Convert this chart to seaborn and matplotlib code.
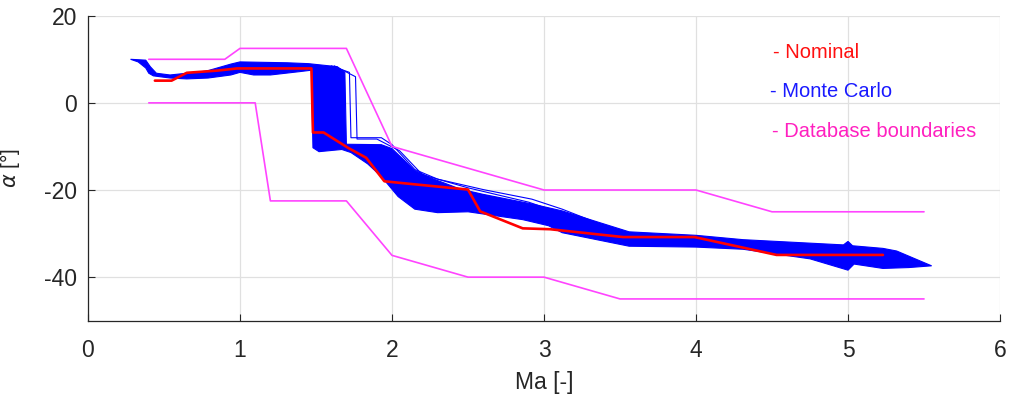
import numpy as np
import matplotlib
matplotlib.use("Agg")
from matplotlib import pyplot as plt
import seaborn as sns

# nominal trajectory (Ma, alpha in deg)
nom_ma = [0.44, 0.55, 0.65, 0.85, 0.98, 1.47, 1.48, 1.55, 1.71, 1.83, 1.95, 2.15,
          2.50, 2.58, 2.86, 3.04, 3.52, 3.99, 4.53, 5.23]
nom_alpha = [5.1, 5.1, 6.9, 7.4, 7.9, 7.9, -6.8, -6.8, -10.3, -12.6, -18.0, -18.7,
             -19.9, -24.9, -28.8, -29.0, -30.8, -30.8, -34.9, -34.9]

# database boundaries
bnd_up_ma = [0.4, 0.9, 1.0, 1.7, 2.0, 3.0, 4.0, 4.5, 5.5]
bnd_up_alpha = [10, 10, 12.5, 12.5, -10, -20, -20, -25, -25]
bnd_lo_ma = [0.4, 1.1, 1.2, 1.7, 2.0, 2.5, 3.0, 3.5, 5.5]
bnd_lo_alpha = [0, 0, -22.5, -22.5, -35, -40, -40, -45, -45]

# Monte Carlo dispersion: upper / lower edge of the dense band
mc_up_ma = [0.28, 0.38, 0.41, 0.45, 0.54, 0.65, 0.78, 0.94, 1.00, 1.31, 1.45, 1.64,
            1.69, 1.70, 1.93, 2.00, 2.15, 2.26, 2.45, 2.60, 2.92, 3.12, 3.34, 3.56,
            4.00, 4.31, 4.97, 5.00, 5.03, 5.23, 5.32, 5.55]
mc_up_alpha = [10.0, 9.8, 8.3, 6.8, 6.4, 6.8, 7.3, 8.9, 9.4, 9.2, 9.0, 8.3,
               7.0, -9.5, -9.6, -10.5, -15.5, -17.3, -19.8, -21.0, -23.2, -24.8, -27.2, -29.6,
               -30.4, -31.4, -32.6, -31.8, -32.8, -33.4, -34.0, -37.4]
mc_lo_ma = [0.28, 0.33, 0.38, 0.40, 0.43, 0.54, 0.65, 0.79, 0.94, 1.00, 1.09, 1.20,
            1.40, 1.47, 1.48, 1.52, 1.67, 1.73, 1.84, 1.93, 2.04, 2.15, 2.30, 2.50,
            2.86, 3.03, 3.12, 3.56, 4.00, 4.31, 4.75, 5.00, 5.04, 5.23, 5.40, 5.55]
mc_lo_alpha = [10.0, 9.4, 8.0, 6.8, 6.2, 5.7, 5.5, 5.7, 6.4, 7.0, 6.4, 6.4,
               7.2, 7.5, -10.3, -11.2, -10.7, -11.4, -14.0, -16.9, -21.5, -24.4, -25.2, -25.0,
               -26.8, -28.2, -29.8, -32.9, -33.1, -33.6, -35.8, -38.4, -37.0, -38.0, -37.8, -37.4]

# a few Monte Carlo runs that separate from the dense band
mc_run_a_ma = [1.60, 1.72, 1.73, 1.93, 2.00, 2.15, 2.30, 2.60, 2.92, 3.12, 3.34]
mc_run_a_alpha = [8.5, 7.0, -8.0, -8.0, -9.6, -15.3, -17.5, -19.9, -22.1, -24.4, -27.4]
mc_run_b_ma = [1.62, 1.76, 1.77, 1.90, 2.05, 2.20, 2.50, 2.90, 3.20]
mc_run_b_alpha = [8.5, 6.0, -8.3, -8.3, -11.0, -16.5, -19.5, -22.8, -26.4]
mc_run_c_ma = [2.10, 2.25, 2.55, 2.85, 3.15, 3.40]
mc_run_c_alpha = [-14.5, -18.5, -20.8, -23.0, -25.6, -28.2]

x_ticks = [0, 1, 2, 3, 4, 5, 6]
y_ticks = [-40, -20, 0, 20]

blue = "#0000ff"
red = "#ff0000"
magenta = "#ff44ff"
dark = "#262626"

sns.set_theme(style="whitegrid")
plt.rcParams["font.family"] = ["Liberation Sans", "DejaVu Sans"]
plt.rcParams["axes.unicode_minus"] = False

fig = plt.figure(figsize=(10.09, 3.99), dpi=100)
ax = fig.add_axes([0.0872, 0.1962, 0.9039, 0.7644])

# dense Monte Carlo band
ax.fill(np.concatenate([mc_up_ma, mc_lo_ma[::-1]]),
        np.concatenate([mc_up_alpha, mc_lo_alpha[::-1]]),
        facecolor=blue, edgecolor=blue, lw=0.8, zorder=2)
for xs, ys in [(mc_run_a_ma, mc_run_a_alpha), (mc_run_b_ma, mc_run_b_alpha),
               (mc_run_c_ma, mc_run_c_alpha)]:
    sns.lineplot(x=xs, y=ys, sort=False, estimator=None, color=blue, lw=0.8, ax=ax, zorder=2)

sns.lineplot(x=bnd_up_ma, y=bnd_up_alpha, sort=False, estimator=None, color=magenta, lw=1.2, ax=ax, zorder=3)
sns.lineplot(x=bnd_lo_ma, y=bnd_lo_alpha, sort=False, estimator=None, color=magenta, lw=1.2, ax=ax, zorder=3)
sns.lineplot(x=nom_ma, y=nom_alpha, sort=False, estimator=None, color=red, lw=1.9, ax=ax, zorder=4)

ax.set_xlim(0, 6)
ax.set_ylim(-50, 20)
ax.set_xticks(x_ticks)
ax.set_yticks(y_ticks)
ax.grid(True, color="#e0e0e0", lw=0.9)
for s in ["top", "right"]:
    ax.spines[s].set_visible(False)
for s in ["left", "bottom"]:
    ax.spines[s].set_color(dark)
    ax.spines[s].set_linewidth(0.9)
ax.tick_params(bottom=True, left=True, direction="in", length=5, width=0.8,
               color=dark, labelcolor=dark, labelsize=16.5)
ax.tick_params(axis="x", pad=13)
ax.tick_params(axis="y", pad=8)

ax.set_xlabel("Ma [-]", fontsize=16.5, color=dark)
ax.set_ylabel(r"$\alpha$ [°]", fontsize=15, color=dark)
ax.xaxis.set_label_coords(0.5, -0.165)
ax.yaxis.set_label_coords(-0.072, 0.5)

# text legend
ax.text(0.751, 0.881, "- Nominal", color="#ff1010", fontsize=14.5, va="center", ha="left", transform=ax.transAxes)
ax.text(0.748, 0.753, "- Monte Carlo", color="#1a1aff", fontsize=14.5, va="center", ha="left", transform=ax.transAxes)
ax.text(0.750, 0.622, "- Database boundaries", color="#ff20c0", fontsize=14.5, va="center", ha="left", transform=ax.transAxes)

fig.savefig("out.png", dpi=100)
